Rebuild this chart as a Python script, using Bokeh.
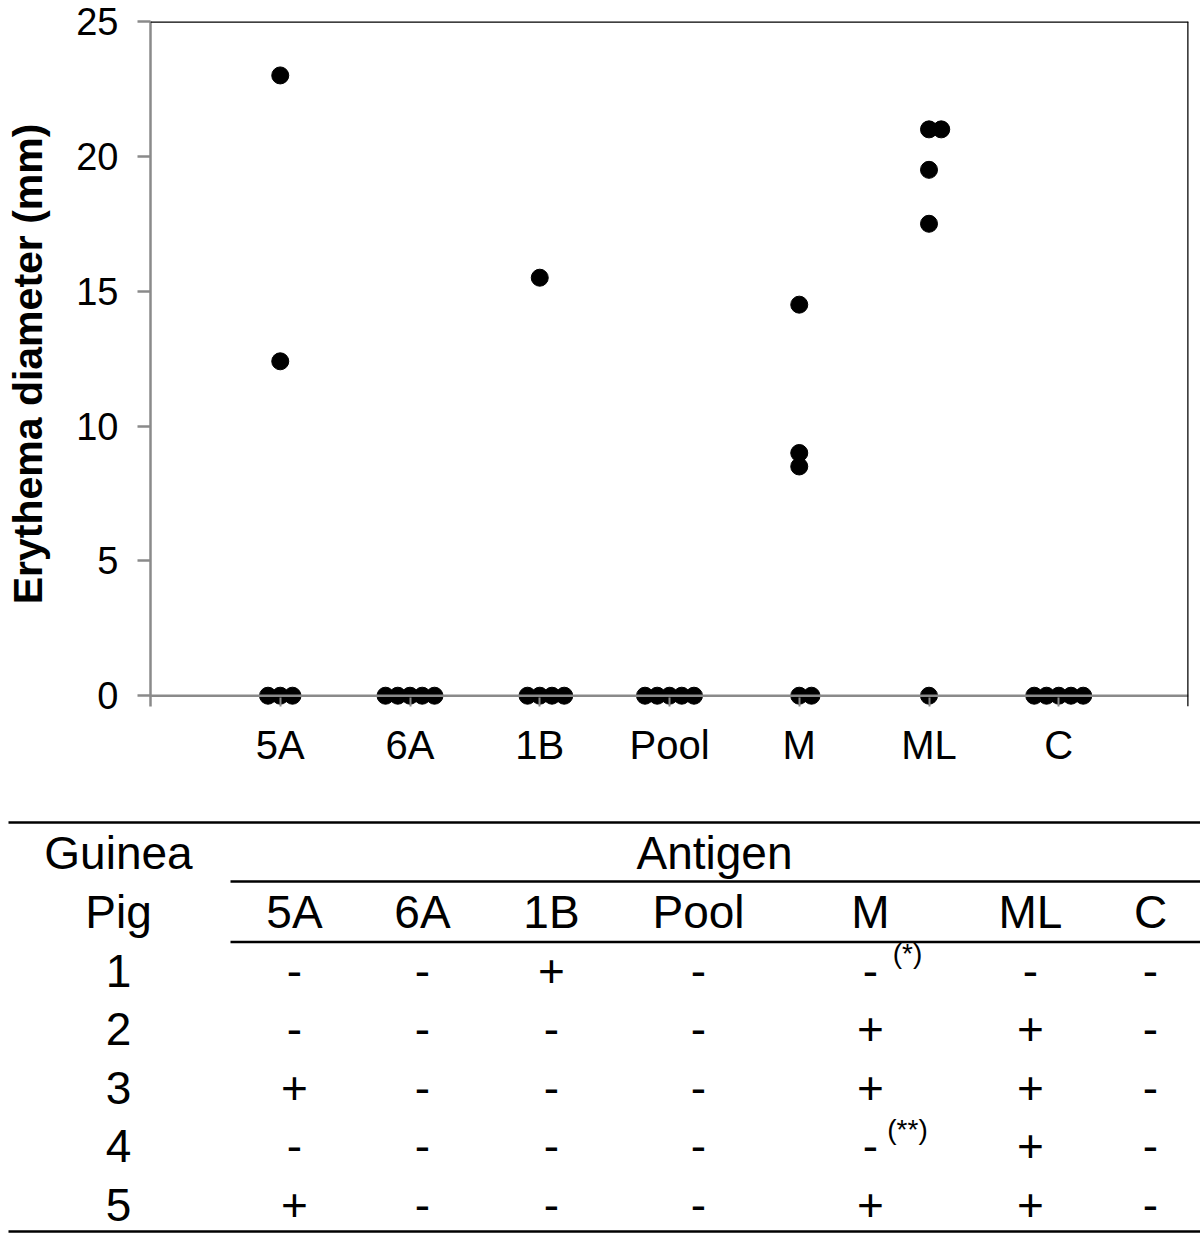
from bokeh.plotting import figure
from bokeh.models import Range1d, FixedTicker, Span, ColumnDataSource
from bokeh.core.properties import value
from bokeh.embed import file_html
from bokeh.resources import INLINE

# ---------------- data ----------------
antigens = ["5A", "6A", "1B", "Pool", "M", "ML", "C"]
pigs = ["1", "2", "3", "4", "5"]
# erythema diameter (mm) per guinea pig 1..5 for each antigen
v_5A = [0, 0, 12.4, 0, 23]
v_6A = [0, 0, 0, 0, 0]
v_1B = [15.5, 0, 0, 0, 0]
v_Pool = [0, 0, 0, 0, 0]
v_M = [0, 14.5, 9, 0, 8.5]
v_ML = [0, 21, 19.5, 17.5, 21]
v_C = [0, 0, 0, 0, 0]
y_ticks = [0, 5, 10, 15, 20, 25]
footnotes = {("M", "1"): "(*)", ("M", "4"): "(**)"}

values = [v_5A, v_6A, v_1B, v_Pool, v_M, v_ML, v_C]

FONT = value("Liberation Sans")
GRAY = "#8a8a8a"
DOT_STEP = 0.0944  # horizontal spacing of stacked dots, in category units

# dot-plot layout: equal values in a category are stacked side by side
xs, ys = [], []
for i, vals in enumerate(values):
    groups = {}
    for v in vals:
        groups[v] = groups.get(v, 0) + 1
    for v, n in groups.items():
        start = -((n - 1) // 2)
        for k in range(n):
            xs.append(i + 1 + (start + k) * DOT_STEP)
            ys.append(v)

p = figure(width=1200, height=800, x_range=Range1d(0, 8), y_range=Range1d(-0.4, 25),
           output_backend="svg", toolbar_location=None,
           min_border_left=150, min_border_right=12, min_border_top=21, min_border_bottom=94)
p.outline_line_color = None
p.xgrid.visible = False
p.ygrid.visible = False

p.add_layout(Span(location=0, dimension="width", line_color=GRAY, line_width=2.5))
p.add_layout(Span(location=25, dimension="width", line_color="black", line_width=2.5))
p.add_layout(Span(location=8, dimension="height", line_color="black", line_width=2.5))

p.scatter(xs, ys, size=17, color="black")

ya = p.yaxis[0]
ya.ticker = FixedTicker(ticks=y_ticks)
ya.axis_line_color = GRAY
ya.axis_line_width = 2.5
ya.major_tick_line_color = GRAY
ya.major_tick_line_width = 2.5
ya.major_tick_out = 13
ya.major_tick_in = 0
ya.minor_tick_line_color = None
ya.major_label_text_font = "Liberation Sans"
ya.major_label_text_font_size = "38px"
ya.major_label_text_color = "black"
ya.major_label_standoff = 19
ya.axis_label = "Erythema diameter (mm)"
ya.axis_label_text_font = "Liberation Sans"
ya.axis_label_text_font_style = "bold"
ya.axis_label_text_font_size = "41px"
ya.axis_label_text_color = "black"
ya.axis_label_standoff = 22

xa = p.xaxis[0]
xa.ticker = FixedTicker(ticks=list(range(1, len(antigens) + 1)))
xa.major_label_overrides = {i + 1: a for i, a in enumerate(antigens)}
xa.axis_line_color = None
xa.major_tick_line_color = GRAY
xa.major_tick_line_width = 2
xa.major_tick_out = 0
xa.major_tick_in = 9
xa.minor_tick_line_color = None
xa.major_label_text_font = "Liberation Sans"
xa.major_label_text_font_size = "40px"
xa.major_label_text_color = "black"
xa.major_label_standoff = 16

# ---------------- table ----------------
t = figure(width=1200, height=433, x_range=Range1d(0, 1200), y_range=Range1d(1233, 800),
           output_backend="svg", toolbar_location=None, min_border=0)
t.outline_line_color = None
t.xaxis.visible = False
t.yaxis.visible = False
t.xgrid.visible = False
t.ygrid.visible = False

col_x = [294, 422, 551, 698, 870, 1030, 1150]
label_x = 118
row0 = 970
row_step = 58.5
TS = "46px"

t.segment(x0=[8, 230, 230, 8], y0=[822, 881, 941.5, 1231],
          x1=[1200, 1200, 1200, 1200], y1=[822, 881, 941.5, 1231],
          line_color="black", line_width=2.5)

hdr = ColumnDataSource(dict(x=[label_x, label_x, 714] + col_x,
                            y=[852, 911, 852] + [911] * len(antigens),
                            s=["Guinea", "Pig", "Antigen"] + antigens))
t.text(x="x", y="y", text="s", source=hdr, text_font=FONT, text_font_size=TS,
       text_align="center", text_baseline="middle", text_color="black")

cx, cy, cs = [], [], []
fx, fy, fs = [], [], []
for r, pig in enumerate(pigs):
    yc = row0 + r * row_step
    cx.append(label_x); cy.append(yc); cs.append(pig)
    for c, a in enumerate(antigens):
        cx.append(col_x[c]); cy.append(yc)
        cs.append("+" if values[c][r] > 0 else "-")
        if (a, pig) in footnotes:
            fx.append(col_x[c] + 37); fy.append(yc - 17); fs.append(footnotes[(a, pig)])

t.text(x=cx, y=cy, text=cs, text_font=FONT, text_font_size=TS,
       text_align="center", text_baseline="middle", text_color="black")
t.text(x=fx, y=fy, text=fs, text_font=FONT, text_font_size="28px",
       text_align="center", text_baseline="middle", text_color="black")

open("out.html", "w").write(file_html([p, t], INLINE))
